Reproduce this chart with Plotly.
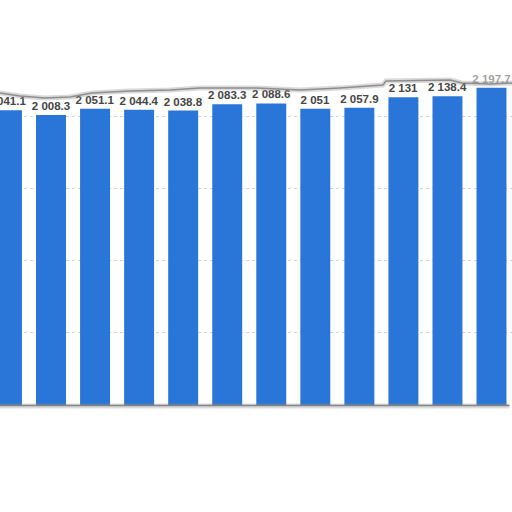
import plotly.graph_objects as go

# --- data (values are printed on the bars) ---
positions = list(range(12))
values = [2041.1, 2008.3, 2051.1, 2044.4, 2038.8, 2083.3,
          2088.6, 2051.0, 2057.9, 2131.0, 2138.4, 2197.7]
value_labels = ["2 041.1", "2 008.3", "2 051.1", "2 044.4", "2 038.8", "2 083.3",
                "2 088.6", "2 051", "2 057.9", "2 131", "2 138.4", "2 197.7"]

W, H = 512, 512
MARGIN_T, MARGIN_B = 44, 107
PLOT_H = H - MARGIN_T - MARGIN_B


def py(ypx):
    # pixel row -> paper y (plot area bottom sits at row 405)
    return (H - MARGIN_B - ypx) / PLOT_H


def px(xpx):
    return xpx / W


# torn-paper top edge (pixel coords)
edge = [(0, 93), (20, 96), (45, 98), (70, 97), (92, 93), (130, 91), (170, 90),
        (200, 88), (256, 88), (300, 90), (340, 88), (383, 85), (386, 81),
        (450, 80), (462, 83), (490, 84), (512, 83)]

edge_path = "M " + " L ".join(f"{px(x):.4f},{py(y):.4f}" for x, y in edge)
cover_path = edge_path + f" L {px(W):.4f},{py(-5):.4f} L {px(0):.4f},{py(-5):.4f} Z"

fig = go.Figure()

fig.add_trace(go.Bar(
    x=positions, y=values,
    text=value_labels,
    textposition='outside',
    constraintext='none',
    textfont=dict(family='Liberation Sans', size=11.5, color='#454545', weight='bold'),
    marker=dict(color='#2a76d8', line=dict(width=0)),
    cliponaxis=False,
    hoverinfo='skip'
))

fig.update_layout(
    width=W, height=H,
    margin=dict(l=0, r=0, t=MARGIN_T, b=MARGIN_B),
    paper_bgcolor='white', plot_bgcolor='white',
    bargap=0.32,
    showlegend=False,
    xaxis=dict(range=[-0.158, 11.465], showticklabels=False, showgrid=False,
               zeroline=False, ticks=''),
    yaxis=dict(range=[0, 2500], dtick=500, showticklabels=False,
               gridcolor='#d4d4d4', griddash='dot', gridwidth=1, zeroline=False),
    shapes=[
        # faded paper above the tear
        dict(type='path', xref='paper', yref='paper', path=cover_path,
             fillcolor='rgba(255,255,255,0.5)', line=dict(width=0), layer='above'),
        # tear shadow
        dict(type='path', xref='paper', yref='paper', path=edge_path,
             line=dict(color='rgba(150,150,150,0.35)', width=5), layer='above'),
        dict(type='path', xref='paper', yref='paper', path=edge_path,
             line=dict(color='rgba(110,110,110,0.7)', width=1.5), layer='above'),
        # bottom edge
        dict(type='line', xref='paper', yref='paper', x0=0, x1=0.995,
             y0=py(406), y1=py(406),
             line=dict(color='rgba(150,150,150,0.35)', width=5), layer='above'),
        dict(type='line', xref='paper', yref='paper', x0=0, x1=0.995,
             y0=py(405.5), y1=py(405.5),
             line=dict(color='rgba(110,110,110,0.8)', width=1.5), layer='above'),
    ]
)

# drop the browser's default body margin so the 512px figure fills the window
fig.write_html("out.html", config={'displayModeBar': False},
               post_script="document.body.style.margin='0';")
